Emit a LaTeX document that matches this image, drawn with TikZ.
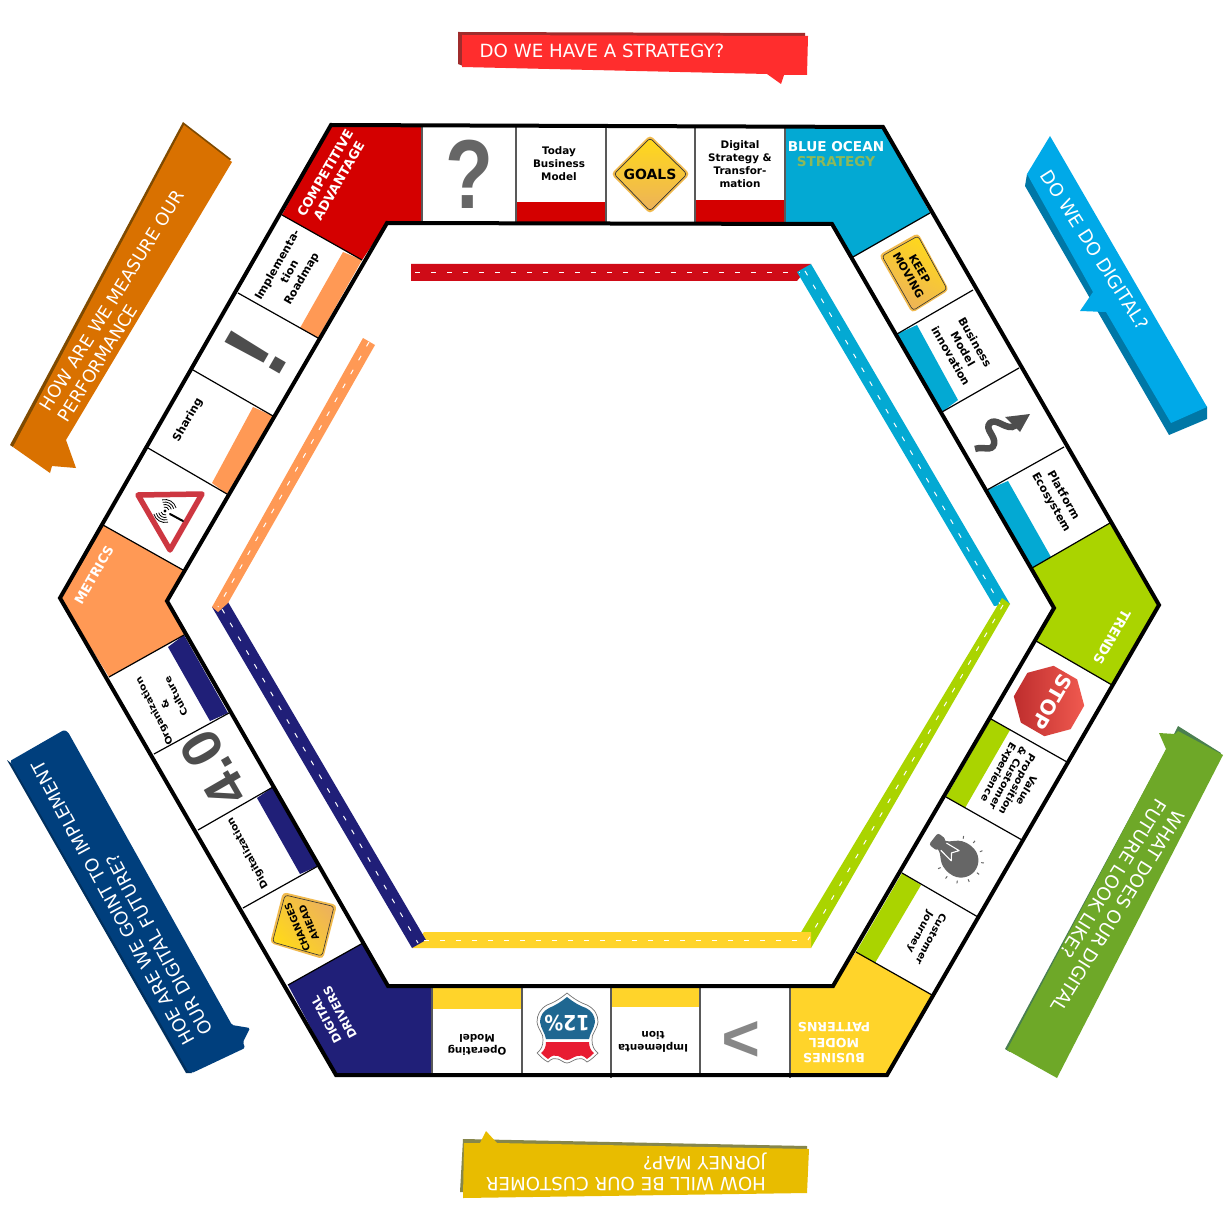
\documentclass[tikz,border=0pt]{standalone}
\usepackage{fontspec}
\setmainfont{DejaVu Sans}
\newfontfamily\heavy{Liberation Sans}
\usetikzlibrary{shapes.geometric}
\definecolor{cred}{HTML}{D40000}
\definecolor{cblue}{HTML}{03A9D3}
\definecolor{cgreen}{HTML}{AAD400}
\definecolor{cyellow}{HTML}{FFD42A}
\definecolor{cnavy}{HTML}{201F78}
\definecolor{corange}{HTML}{FF9955}
\definecolor{signa}{HTML}{FFD91A}
\definecolor{signb}{HTML}{EDB25A}
\definecolor{glyph}{HTML}{4D4D4D}
\definecolor{rred}{HTML}{CF0B17}
\definecolor{shblue}{HTML}{1F6791}
\definecolor{shred}{HTML}{E81C32}
\definecolor{bred}{HTML}{FF2D2D}\definecolor{bredd}{HTML}{A02C2C}
\definecolor{byel}{HTML}{E8BC00}\definecolor{byeld}{HTML}{86864B}
\definecolor{bblu}{HTML}{00A9E8}\definecolor{bblud}{HTML}{0077A6}
\definecolor{bgrn}{HTML}{6EA828}\definecolor{bgrnd}{HTML}{4A7F50}
\definecolor{bnav}{HTML}{003F7D}\definecolor{bnavd}{HTML}{00305F}
\definecolor{bora}{HTML}{D97100}\definecolor{borad}{HTML}{7F4A00}
\tikzset{
  x=1pt,y=-1pt,
  hexline/.style={draw=black,line width=4pt,line join=miter},
  celldiv/.style={draw=black,line width=1.2pt},
  topdiv/.style={draw=black!65,line width=1.5pt},
  roadline/.style={draw=white,line width=1pt,dash pattern=on 5pt off 11pt},
  lbl/.style={font=\bfseries\fontsize{10.4}{13}\selectfont,align=center,inner sep=0pt,text=black},
  lbs/.style={font=\bfseries\fontsize{10.6}{13.5}\selectfont,align=center,inner sep=0pt,text=black,xscale=.9},
  cornertext/.style={font=\bfseries\fontsize{13}{16}\selectfont,align=center,inner sep=0pt,text=white},
  banner/.style={font=\fontsize{18.2}{21}\selectfont,align=left,inner sep=0pt,text=white},
  signtext/.style={font=\bfseries\fontsize{11}{13}\selectfont,align=center,inner sep=0pt,text=black},
  bigglyph/.style={font=\heavy\bfseries,inner sep=0pt},
}
\begin{document}
\begin{tikzpicture}
\useasboundingbox (0,0) rectangle (1230,1230);
\fill[white] (0,0) rectangle (1230,1230);

% ---------- banners
\fill[bredd] (458,32) -- (805,33) -- (805,40) -- (463,66) -- (458,64) -- cycle;
\fill[bred] (462,35) -- (808,36) -- (807,75) -- (784,75) -- (781,84) -- (767,74) -- (462,67) -- cycle;
\node[banner] (bq1) at (602,51) {DO WE HAVE A STRATEGY?};

\fill[byeld] (463,1139) -- (807,1146) -- (807,1152) -- (465,1192) -- (460,1192) -- cycle;
\fill[byel] (464,1143) -- (480,1143) -- (486,1131) -- (497,1143) -- (809,1149) -- (807,1193) -- (463,1198) -- cycle;
\node[banner,rotate=180] (bq2) at (626,1172) {HOW WILL BE OUR CUSTOMER\\JORNEY MAP?};

\fill[bblud] (1027,174) -- (1025,186) -- (1169,435) -- (1207,419) -- (1207,407) -- cycle;
\fill[bblu] (1050,136) -- (1207,407) -- (1171,423) -- (1106,312) -- (1080,311) -- (1093,292) -- (1027,174) -- cycle;
\node[banner,rotate=-57.5] (bq3) at (1095,250) {DO WE DO DIGITAL?};

\fill[bgrnd] (1178,726) -- (1221,753) -- (1215,765) -- (1010,1052) -- (1005,1049) -- (1165,752) -- cycle;
\fill[bgrn] (1159,733) -- (1175,734) -- (1178,731) -- (1223,755) -- (1057,1078) -- (1007,1050) -- (1166,749) -- cycle;
\node[banner,rotate=-122] (bq4) at (1109,906) {WHAT DOES OUR DIGITAL\\FUTURE LOOK LIKE?};

\fill[bnavd] (7,760) -- (186,1073) -- (192,1073) -- (20,770) -- cycle;
\fill[bnav,rounded corners=1.5pt] (10,761) -- (64,730) -- (68,732) -- (232,1025) -- (250,1028) -- (243,1042) -- (245,1048) -- (192,1073) -- (188,1071) -- cycle;
\node[banner,font=\fontsize{18}{21}\selectfont,rotate=118.5] (bq5) at (122,898) {HOE ARE WE GOINT TO IMPLEMENT\\OUR DIGITAL FUTURE?};

\fill[borad] (183,122) -- (231,159) -- (220,170) -- (13,447) -- (10,445) -- cycle;
\fill[bora] (184,125) -- (232,162) -- (66,440) -- (76,468) -- (52,466) -- (50,473) -- (13,447) -- cycle;
\node[banner,font=\fontsize{17.6}{21}\selectfont,rotate=58] (bq6) at (121,306) {HOW ARE WE MEASURE OUR\\PERFORMANCE};

% ---------- corner fills
\fill[cred] (331,125) -- (422,127) -- (422,222) -- (387,223) -- (362,260) -- (282,215) -- cycle;
\fill[cblue] (785,127) -- (883,127) -- (930,213) -- (853,257) -- (832,224) -- (785,224) -- cycle;
\fill[cgreen] (1110,523) -- (1159,605) -- (1112,685) -- (1036,641) -- (1054,608) -- (1032,568) -- cycle;
\fill[cyellow] (932,995) -- (887,1075) -- (790,1075) -- (790,986) -- (833,986) -- (856,952) -- cycle;
\fill[cnavy] (388,986) -- (432,986) -- (432,1075) -- (336,1075) -- (288,985) -- (363,943) -- cycle;
\fill[corange] (60,598) -- (103,525) -- (183,570) -- (167,601) -- (184,635) -- (109,677) -- cycle;

% ---------- colour bands
\fill[cred] (516,202) rectangle (606,222);
\fill[cred] (695,200) rectangle (785,222);
\fill[cblue] (897,334) -- (917,325) -- (958,400) -- (942,412) -- cycle;
\fill[cblue] (987,490) -- (1008,481) -- (1051,557) -- (1032,568) -- cycle;
\fill[cgreen] (991,719) -- (1010,730) -- (965,808) -- (946,797) -- cycle;
\fill[cgreen] (902,873) -- (921,885) -- (875,963) -- (856,952) -- cycle;
\fill[cyellow] (432,988) rectangle (522,1009);
\fill[cyellow] (611,988) rectangle (700,1007);
\fill[cnavy] (184,635) -- (228,713) -- (210,721) -- (168,647) -- cycle;
\fill[cnavy] (273,787) -- (318,866) -- (300,874) -- (257,798) -- cycle;
\fill[corange] (343,252) -- (362,260) -- (318,338) -- (300,328) -- cycle;
\fill[corange] (253,407) -- (273,416) -- (227,494) -- (212,483) -- cycle;

% ---------- dividers
\foreach \tx/\ty/\bx/\by in {422/127/422/222,516/127/516/222,606/127/606/222,695/127/695/222,785/127/785/224,
  432/986/432/1075,522/984/522/1075,611/986/611/1078,700/986/700/1075,790/986/790/1078}
  \draw[topdiv] (\tx,\ty) -- (\bx,\by);
\foreach \ax/\ay/\bx/\by in {282/215/362/260,238/293/318/338,193/370/273/416,148/448/227/494,103/525/183/570,
  930/213/853/257,973/290/897/334,1019/368/942/412,1064/447/987/490,1110/523/1032/568,
  1112/685/1036/641,1067/762/991/719,1022/840/946/797,978/917/902/873,932/995/856/952,
  184/635/109/677,229/713/154/754,273/787/198/830,318/866/243/908,363/943/288/985}
  \draw[celldiv] (\ax,\ay) -- (\bx,\by);

% ---------- hexagon
\draw[hexline] (331,125) -- (883,127) -- (1159,605) -- (887,1075) -- (336,1075) -- (60,598) -- cycle;
\draw[hexline] (387,223) -- (832,224) -- (1054,608) -- (833,986) -- (388,986) -- (167,601) -- cycle;

% ---------- roads
\fill[rred] (411,264) -- (811,264) -- (797,281) -- (411,281) -- cycle;
\fill[cblue] (811,264) -- (1010,604) -- (994,606) -- (797,272) -- cycle;
\fill[cgreen] (1002,598) -- (1010,604) -- (811,948) -- (800,934) -- cycle;
\fill[cyellow] (424,932) -- (811,932) -- (811,948) -- (412,948) -- cycle;
\fill[cnavy] (212,607) -- (228,602) -- (426,940) -- (412,948) -- cycle;
\fill[corange] (363,338) -- (375,345) -- (228,603) -- (218,612) -- (212,607) -- cycle;
\draw[roadline] (415,272.5) -- (800,272.5);
\draw[roadline] (805,271) -- (1000,604);
\draw[roadline] (1003,605) -- (808,940);
\draw[roadline] (424,940) -- (805,940);
\draw[roadline] (222,609) -- (418,943);
\draw[roadline] (369,342) -- (218,607);

% ---------- corner labels
\node[cornertext,rotate=60] (c1) at (332,177) {COMPETITIVE\\ADVANTAGE};
\node[font=\bfseries\fontsize{13.6}{16}\selectfont,inner sep=0pt,text=white] (c2) at (836,146.5) {BLUE OCEAN};
\node[font=\bfseries\fontsize{13.6}{16}\selectfont,inner sep=0pt,text={rgb,255:red,141;green,184;blue,90}] (c2b) at (836,162) {STRATEGY};
\node[cornertext,font=\bfseries\fontsize{13.4}{16}\selectfont,rotate=-120] (c3) at (1112,637) {TRENDS};
\node[cornertext,font=\bfseries\fontsize{12.6}{15.5}\selectfont,rotate=180] (c4) at (834,1043) {BUSINES\\MODEL\\PATTERNS};
\node[cornertext,font=\bfseries\fontsize{11.8}{15.5}\selectfont,rotate=118] (c5) at (333,1016) {DIGITAL\\DRIVERS};
\node[cornertext,rotate=60] (c6) at (94,575) {METRICS};

% ---------- cell labels
\node[lbl] (t1) at (559,164) {Today\\Business\\Model};
\node[lbl] (t2) at (740,164) {Digital\\Strategy \&\\Transfor-\\mation};
\node[lbl,font=\bfseries\fontsize{11}{14}\selectfont,rotate=-60] (r1) at (963,349) {Business\\Model\\innovation};
\node[lbl,font=\bfseries\fontsize{11}{14}\selectfont,rotate=-60] (r2) at (1057,499) {Platform\\Ecosystem};
\node[lbs,font=\bfseries\fontsize{10.7}{12}\selectfont,rotate=-120] (r3) at (1012,781) {Value\\Proposition\\\& Customer\\Experience};
\node[lbs,rotate=-120] (r4) at (925,935) {Customer\\Journey};
\node[lbl,rotate=180] (b1) at (477,1045) {Operating\\Model};
\node[lbl,rotate=180] (b2) at (653,1042) {Implementa\\tion};
\node[lbs,font=\bfseries\fontsize{10.6}{15}\selectfont,xscale=.94,rotate=120] (l1) at (165,704) {Organization\\\&\\Culture};
\node[lbs,rotate=120] (l2) at (248,853) {Digitalization};
\node[lbl,font=\bfseries\fontsize{11}{14}\selectfont,rotate=60] (l3) at (290,272) {Implementa-\\tion\\Roadmap};
\node[lbl,font=\bfseries\fontsize{11}{14}\selectfont,rotate=60] (l4) at (188,420) {Sharing};

% ---------- glyph cells
\node[bigglyph,text=black!60,font=\heavy\bfseries\fontsize{98}{98}\selectfont,xscale=.8] (qm) at (469,174) {?};
\node[bigglyph,text=glyph,font=\heavy\bfseries\fontsize{92}{92}\selectfont,rotate=60] (ex) at (256,352) {!};
\node[bigglyph,text=glyph,font=\heavy\bfseries\fontsize{56}{56}\selectfont,rotate=120] (fo) at (214,769) {4.0};
\node[bigglyph,text=black!47,font=\heavy\bfseries\fontsize{66}{66}\selectfont,rotate=180] (gt) at (741,1037) {>};

% ---------- GOALS sign
\path[fill=signb!80!signa,rounded corners=4pt] (650,135) -- (690,174) -- (650,214) -- (611,174) -- cycle;
\path[top color=signa,bottom color=signb,draw=black!80,line width=.7pt,rounded corners=3pt] (650,138) -- (687,174) -- (650,211) -- (614,174) -- cycle;
\node[signtext,font=\bfseries\fontsize{14}{16}\selectfont] (s1) at (650,174) {GOALS};

% ---------- KEEP MOVING sign
\path[fill=signb!80!signa,rounded corners=4pt] (918,233) -- (949,290) -- (912,313) -- (879,255) -- cycle;
\path[draw=black!80,line width=.6pt,rounded corners=3pt,top color=signb,bottom color=signa,shading angle=150] (918,236) -- (947,289) -- (913,310.5) -- (882,256) -- cycle;
\node[signtext,rotate=-60] (s2) at (914,272) {KEEP\\MOVING};

% ---------- CHANGES AHEAD sign
\path[fill=signb!80!signa,rounded corners=4pt] (283,892) -- (337,905) -- (323,959) -- (270,943) -- cycle;
\path[draw=black!80,line width=.6pt,rounded corners=3pt,top color=signb,bottom color=signa,shading angle=-50] (285,895) -- (334,906.5) -- (322,956) -- (272.5,942) -- cycle;
\node[signtext,font=\bfseries\fontsize{9.6}{12.5}\selectfont,rotate=113] (s3) at (303,925) {CHANGES\\AHEAD};

% ---------- STOP sign
\node[regular polygon,regular polygon sides=8,minimum size=71pt,inner sep=0pt,shape border rotate=-30,left color={rgb,255:red,190;green,45;blue,45},right color={rgb,255:red,240;green,90;blue,80}] (stopsign) at (1049,701) {};
\node[font=\bfseries\fontsize{20}{20}\selectfont,text=white,inner sep=0pt,rotate=-120] (stoptext) at (1052,702) {STOP};

% ---------- warning triangle
\draw[line width=5.5pt,line join=round,draw={rgb,255:red,205;green,55;blue,65}] (138,495) -- (202,494) -- (170,550) -- cycle;
\coordinate (wc) at (165,511);
\fill[black] (wc) circle (1.6);
\draw[black,line width=2pt,line cap=round] (170,514) -- (183,521);
\foreach \rr in {4,6.5,9,11.5}{
  \draw[black,line width=.8pt] ([shift={(-15:\rr)}]wc) arc[start angle=-15,end angle=-105,radius=\rr];
  \draw[black,line width=.8pt] ([shift={(-195:\rr)}]wc) arc[start angle=-195,end angle=-285,radius=\rr];
}

% ---------- winding arrow
\draw[glyph,line width=6.5pt] (975,449) .. controls (983,446) and (992,452) .. (994,444) .. controls (996,436) and (984,429) .. (990,423) .. controls (996,418) and (1004,428) .. (1012,427) .. controls (1016,426) and (1017,423) .. (1019,421);
\fill[glyph] (1030,414) -- (1005,417) -- (1020,432) -- cycle;

% ---------- bulb
\begin{scope}[shift={(953,854)},rotate=-38,scale=.92]
  \fill[black!60,rounded corners=2.5pt] (-27,-8) rectangle (-16,8);
  \fill[black!60] (-17,-6) .. controls (-8,-7) and (-8,-19) .. (10,-19) .. controls (23,-19) and (30,-9) .. (30,0) .. controls (30,9) and (23,19) .. (10,19) .. controls (-8,19) and (-8,7) .. (-17,6) -- cycle;
  \draw[white,line width=1.1pt,line join=round] (-13,-5) -- (3,-7) -- (-2,0) -- (3,7) -- (-13,5);
  \foreach \aa in {-90,-60,-30,0,30,60,90,120,-120}
    \draw[black!60,line width=1pt] ([shift={(\aa:23)}]10,0) -- ([shift={(\aa:26)}]10,0);
\end{scope}

% ---------- 12% shield
\path[draw=black!55,line width=.7pt,fill=white] (567,993) .. controls (560,999) and (553,1003) .. (547,1005) .. controls (540,1009) and (537,1015) .. (537,1022) .. controls (538,1030) and (544,1034) .. (543,1040) .. controls (543,1046) and (541,1050) .. (537,1053) .. controls (541,1057) and (544,1060) .. (548,1062) .. controls (552,1058) and (555,1058) .. (558,1059) .. controls (561,1060) and (564,1063) .. (567,1063) .. controls (570,1063) and (573,1060) .. (577,1059) .. controls (580,1058) and (583,1058) .. (587,1062) .. controls (591,1060) and (595,1056) .. (598,1053) .. controls (594,1050) and (592,1046) .. (592,1040) .. controls (591,1034) and (597,1030) .. (598,1022) .. controls (598,1015) and (595,1009) .. (587,1005) .. controls (581,1003) and (574,999) .. (567,993) -- cycle;
\fill[shblue] (567,997) .. controls (561,1002) and (554,1006) .. (549,1008) .. controls (543,1011) and (540,1016) .. (540,1022) .. controls (541,1029) and (545,1033) .. (546,1039) -- (589,1039) .. controls (590,1033) and (594,1029) .. (595,1022) .. controls (595,1016) and (592,1011) .. (586,1008) .. controls (580,1006) and (573,1002) .. (567,997) -- cycle;
\fill[shred] (546,1042) -- (589,1042) .. controls (589,1047) and (591,1051) .. (594,1053) .. controls (592,1055) and (590,1057) .. (587,1059) .. controls (583,1055) and (580,1055) .. (577,1056) .. controls (573,1057) and (570,1060) .. (567,1060) .. controls (564,1060) and (561,1057) .. (558,1056) .. controls (555,1055) and (552,1055) .. (548,1059) .. controls (545,1057) and (543,1055) .. (541,1053) .. controls (544,1051) and (546,1047) .. (546,1042) -- cycle;
\node[font=\bfseries\fontsize{21}{21}\selectfont,text=white,inner sep=0pt,rotate=180,xscale=.9] (pct) at (567,1023) {12\%};
\end{tikzpicture}
\end{document}
